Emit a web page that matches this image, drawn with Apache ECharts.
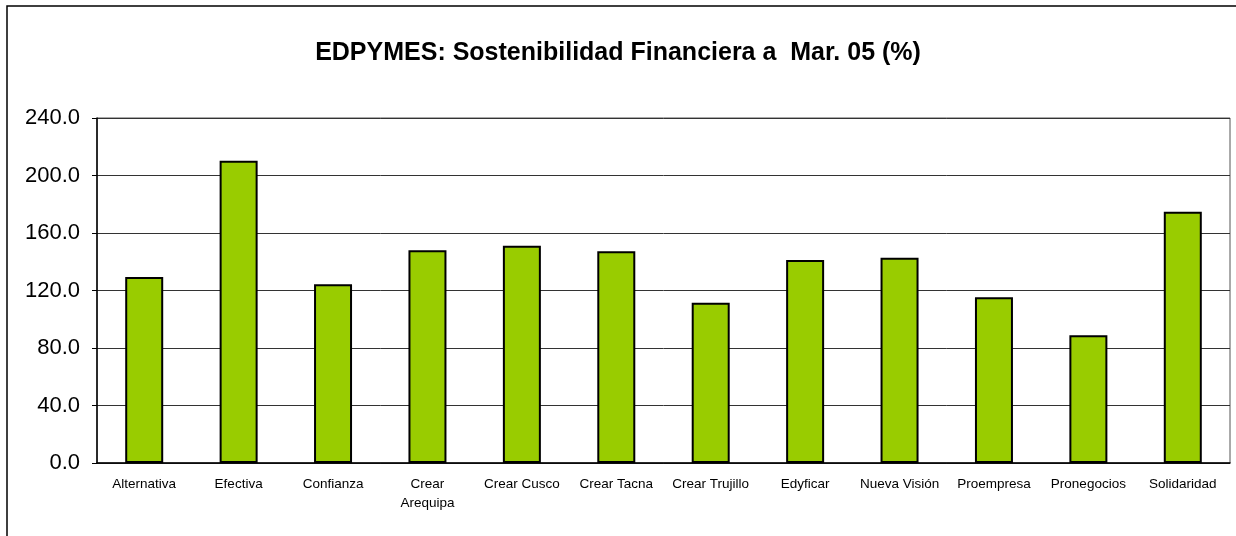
<!DOCTYPE html>
<html>
<head>
<meta charset="utf-8">
<script src="https://cdn.jsdelivr.net/npm/echarts@6/dist/echarts.min.js"></script>
<style>
  html, body { margin: 0; padding: 0; background: #fff; }
  #main { width: 1236px; height: 536px; }
</style>
</head>
<body>
<div id="main"></div>
<script>
var categories = ['Alternativa', 'Efectiva', 'Confianza', 'Crear\nArequipa', 'Crear Cusco', 'Crear Tacna',
    'Crear Trujillo', 'Edyficar', 'Nueva Visión', 'Proempresa', 'Pronegocios', 'Solidaridad'];
var values = [129.4, 210.3, 124.3, 148.0, 151.2, 147.3, 111.5, 141.2, 142.8, 115.3, 88.8, 174.8];
var yTicks = [0, 40, 80, 120, 160, 200, 240];

var myChart = echarts.init(document.getElementById('main'));
var option = {
    backgroundColor: '#fff',
    animation: false,
    title: {
        text: 'EDPYMES: Sostenibilidad Financiera a  Mar. 05 (%)',
        left: 'center',
        top: 36,
        textStyle: {
            fontFamily: 'Liberation Sans, Arial',
            fontWeight: 'bold',
            fontSize: 25,
            color: '#000'
        }
    },
    graphic: [{
        type: 'rect',
        shape: { x: 7, y: 6, width: 1300, height: 600 },
        style: { fill: 'none', stroke: '#000', lineWidth: 1.5 },
        silent: true
    }],
    grid: {
        left: 97,
        right: 6,
        top: 118,
        bottom: 73,
        show: true,
        borderColor: '#555',
        borderWidth: 1
    },
    xAxis: {
        type: 'category',
        data: categories,
        axisLine: { lineStyle: { color: '#000', width: 1.5 } },
        axisTick: { show: false },
        axisLabel: {
            interval: 0,
            margin: 12,
            fontFamily: 'Liberation Sans, Arial',
            fontSize: 13.5,
            color: '#000',
            lineHeight: 19
        }
    },
    yAxis: {
        type: 'value',
        min: yTicks[0],
        max: yTicks[yTicks.length - 1],
        interval: 40,
        axisLine: { show: true, lineStyle: { color: '#000', width: 1.5 } },
        axisTick: { show: true, length: 5, lineStyle: { color: '#000' } },
        splitLine: { lineStyle: { color: '#333', width: 1 } },
        axisLabel: {
            margin: 17,
            fontFamily: 'Liberation Sans, Arial',
            fontSize: 22,
            color: '#000',
            formatter: function (v) { return v.toFixed(1); }
        }
    },
    series: [{
        type: 'bar',
        data: values,
        barWidth: 38,
        itemStyle: {
            color: '#99cc00',
            borderColor: '#000',
            borderWidth: 2
        }
    }]
};
myChart.setOption(option);
</script>
</body>
</html>
